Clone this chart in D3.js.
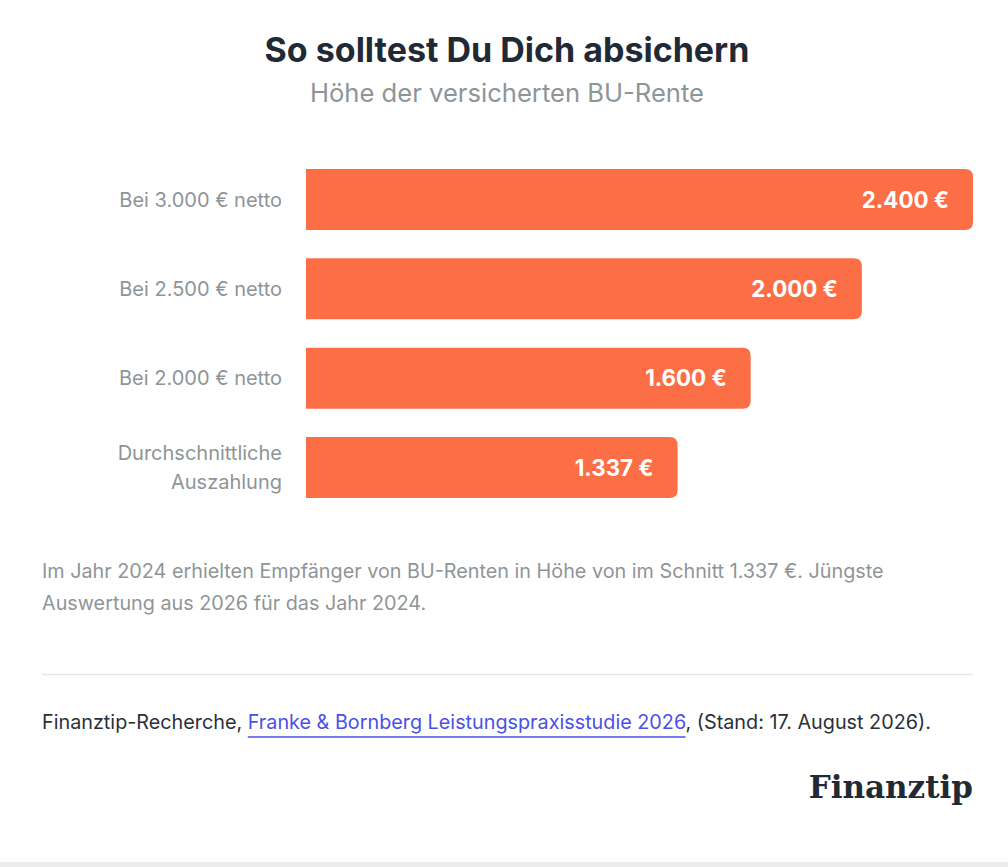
<!DOCTYPE html>
<html><head><meta charset="utf-8">
<script src="https://cdn.jsdelivr.net/npm/d3@7"></script>
<style>
html,body{margin:0;padding:0;background:#fff;}
svg{display:block;font-family:Inter, "Noto Sans", sans-serif;}
</style></head>
<body>
<svg id="c" width="1008" height="867"></svg>
<script>
const categories = [["Bei 3.000 € netto"], ["Bei 2.500 € netto"], ["Bei 2.000 € netto"], ["Durchschnittliche", "Auszahlung"]];
const values = [2400, 2000, 1600, 1337];
const valueLabels = ["2.400 €", "2.000 €", "1.600 €", "1.337 €"];
const title = "So solltest Du Dich absichern";
const subtitle = "Höhe der versicherten BU-Rente";
const noteLines = ["Im Jahr 2024 erhielten Empfänger von BU-Renten in Höhe von im Schnitt 1.337 €. Jüngste", "Auswertung aus 2026 für das Jahr 2024."];
const sourcePre = "Finanztip-Recherche, ";
const sourceLink = "Franke & Bornberg Leistungspraxisstudie 2026";
const sourcePost = ", (Stand: 17. August 2026).";
const logo = "Finanztip";

const svg = d3.select("#c");
const W = 1008, H = 867;
const keys = categories.map((c, i) => i);
const x = d3.scaleLinear().domain([0, 2400]).range([306, 973]);
const y = d3.scaleBand().domain(keys).range([169, 498]).paddingInner(0.317).paddingOuter(0);

svg.append("text").attr("x", 507).attr("y", 62).attr("text-anchor", "middle")
  .attr("font-size", 34).attr("font-weight", 700).attr("fill", "#1f2a35").text(title);
svg.append("text").attr("x", 507).attr("y", 102).attr("text-anchor", "middle")
  .attr("font-size", 25.6).attr("fill", "#8e9597").text(subtitle);

const r = 8;
function barPath(i) {
  const x0 = x(0), x1 = x(values[i]), y0 = y(i), h = y.bandwidth();
  return `M${x0},${y0}H${x1 - r}Q${x1},${y0} ${x1},${y0 + r}V${y0 + h - r}Q${x1},${y0 + h} ${x1 - r},${y0 + h}H${x0}Z`;
}
svg.append("g").selectAll("path").data(keys).join("path")
  .attr("d", d => barPath(d)).attr("fill", "#fc6e46");

svg.append("g").selectAll("text").data(keys).join("text")
  .attr("x", d => x(values[d]) - 24)
  .attr("y", d => y(d) + y.bandwidth() / 2)
  .attr("dy", "0.36em").attr("text-anchor", "end")
  .attr("font-size", 22.3).attr("font-weight", 700).attr("fill", "#fff")
  .text(d => valueLabels[d]);

const lab = svg.append("g").selectAll("text").data(keys).join("text")
  .attr("text-anchor", "end").attr("font-size", 20).attr("fill", "#8e9597")
  .attr("y", d => y(d) + y.bandwidth() / 2);
lab.each(function(d) {
  const lines = categories[d];
  const lh = 29;
  const t = d3.select(this);
  lines.forEach((l, j) => {
    t.append("tspan").attr("x", 282)
      .attr("dy", j === 0 ? ((-(lines.length - 1) * lh / 2) + 7) : lh)
      .text(l);
  });
});

noteLines.forEach((l, j) => {
  svg.append("text").attr("x", 42).attr("y", 578 + j * 32)
    .attr("font-size", 19.8).attr("fill", "#8e9597").text(l);
});

svg.append("line").attr("x1", 42).attr("x2", 973).attr("y1", 674.5).attr("y2", 674.5)
  .attr("stroke", "#e4e8ec").attr("stroke-width", 1.5);

const src = svg.append("text").attr("x", 42).attr("y", 729).attr("font-size", 19.8).attr("fill", "#2a3139");
src.append("tspan").text(sourcePre);
const link = src.append("tspan").attr("fill", "#4b50e8").text(sourceLink);
src.append("tspan").text(sourcePost);
const ln = link.node();
const lx0 = ln.getStartPositionOfChar(0).x;
const lx1 = ln.getEndPositionOfChar(sourceLink.length - 1).x;
svg.append("line").attr("x1", lx0).attr("x2", lx1)
  .attr("y1", 737).attr("y2", 737).attr("stroke", "#4b50e8").attr("stroke-width", 1.3);

svg.append("text").attr("x", 973).attr("y", 798).attr("text-anchor", "end")
  .attr("font-family", "'DejaVu Serif', serif").attr("font-weight", 700)
  .attr("font-size", 31).attr("fill", "#1f2a35").text(logo);

svg.append("rect").attr("x", 0).attr("y", 862).attr("width", W).attr("height", 5).attr("fill", "#ececec");
</script>
</body></html>
